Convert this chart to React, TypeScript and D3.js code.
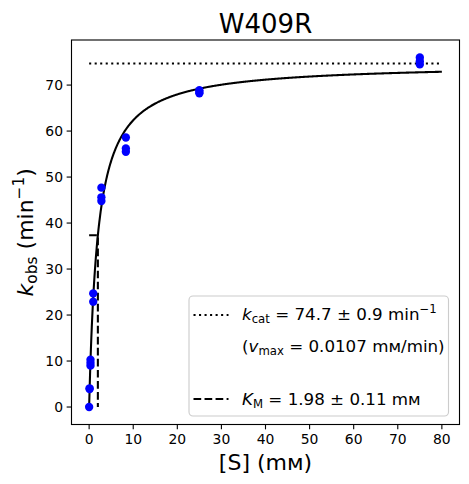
import React from "react";
import * as d3 from "d3";

const substrate = [0, 0.103, 0.103, 0.309, 0.309, 0.309, 0.926, 0.926, 2.78, 2.78, 2.78, 8.33, 8.33, 8.33, 25, 25, 25, 75, 75, 75];
const kobs = [0, 4.07, 3.9, 10.3, 9.6, 9.0, 24.7, 22.9, 47.7, 45.6, 44.8, 58.6, 56.2, 55.5, 68.9, 68.5, 68.2, 76.0, 75.2, 74.5];
const kcat = [74.7];
const KM = [1.98];
const xTicks = [0, 10, 20, 30, 40, 50, 60, 70, 80];
const yTicks = [0, 10, 20, 30, 40, 50, 60, 70];

const W = 469, H = 484;
const L = 71.5, R = 459.5, T = 40, B = 424.5;
const FONT = "DejaVu Sans";
const LW = 2.08;
const DOT = "2.08,3.44";
const DASH = "7.7,3.33";

export default function App() {
  const x = d3.scaleLinear().domain([-4, 84]).range([L, R]);
  const y = d3.scaleLinear().domain([-3.8, 79.8]).range([B, T]);
  const vmax = kcat[0];
  const km = KM[0];
  const curveX = d3.range(0, 80.0001, 0.1);
  const line = d3.line<number>().x((s) => x(s)).y((s) => y((vmax * s) / (km + s)));
  const half = vmax / 2;

  return (
    <svg width={W} height={H} style={{ position: "absolute", left: 0, top: 0, background: "#fff" }} fontFamily={FONT}>
      <rect x={0} y={0} width={W} height={H} fill="#fff" />
      {/* kcat dotted line */}
      <line x1={x(0)} x2={x(80)} y1={y(vmax)} y2={y(vmax)} stroke="#000" strokeWidth={LW} strokeDasharray={DOT} />
      {/* KM dashed */}
      <path d={`M${x(0)},${y(half)}H${x(km)}V${y(0)}`} fill="none" stroke="#000" strokeWidth={LW} strokeDasharray={DASH} />
      {/* fit curve */}
      <path d={line(curveX) || ""} fill="none" stroke="#000" strokeWidth={LW} />
      {/* data */}
      {substrate.map((s, i) => (
        <circle key={i} cx={x(s)} cy={y(kobs[i])} r={4.17} fill="#0000ff" />
      ))}
      {/* frame */}
      <rect x={L} y={T} width={R - L} height={B - T} fill="none" stroke="#000" strokeWidth={1.11} />
      {/* x ticks */}
      {xTicks.map((t) => (
        <g key={t}>
          <line x1={x(t)} x2={x(t)} y1={B} y2={B + 4.86} stroke="#000" strokeWidth={1.11} />
          <text x={x(t)} y={B + 19} fontSize={13.9} textAnchor="middle">{t}</text>
        </g>
      ))}
      {yTicks.map((t) => (
        <g key={t}>
          <line x1={L} x2={L - 4.86} y1={y(t)} y2={y(t)} stroke="#000" strokeWidth={1.11} />
          <text x={L - 8.5} y={y(t) + 5} fontSize={13.9} textAnchor="end">{t}</text>
        </g>
      ))}
      {/* title */}
      <text x={(L + R) / 2} y={33} fontSize={26} textAnchor="middle">W409R</text>
      {/* x label */}
      <text x={(L + R) / 2} y={470} fontSize={22} textAnchor="middle">[S] (mм)</text>
      {/* y label */}
      <text transform={`translate(33,${(T + B) / 2}) rotate(-90)`} fontSize={22} textAnchor="middle">
        <tspan fontStyle="italic">k</tspan>
        <tspan fontSize={15.4} dy={4}>obs</tspan>
        <tspan dy={-4}> (min</tspan>
        <tspan fontSize={15.4} dy={-9}>−1</tspan>
        <tspan dy={9}>)</tspan>
      </text>
      {/* legend */}
      <rect x={189} y={296} width={259.5} height={120} rx={4} fill="#fff" fillOpacity={0.8} stroke="#cccccc" strokeWidth={1.11} />
      <line x1={193.5} x2={228.5} y1={315} y2={315} stroke="#000" strokeWidth={LW} strokeDasharray={DOT} />
      <text x={242} y={320} fontSize={16.7}>
        <tspan fontStyle="italic">k</tspan>
        <tspan fontSize={11.7} dy={3}>cat</tspan>
        <tspan dy={-3}> = 74.7 ± 0.9 min</tspan>
        <tspan fontSize={11.7} dy={-7}>−1</tspan>
      </text>
      <text x={242} y={351.5} fontSize={16.7}>
        <tspan>(</tspan>
        <tspan fontStyle="italic">v</tspan>
        <tspan fontSize={11.7} dy={3}>max</tspan>
        <tspan dy={-3}> = 0.0107 mм/min)</tspan>
      </text>
      <line x1={193.5} x2={228.5} y1={399} y2={399} stroke="#000" strokeWidth={LW} strokeDasharray={DASH} />
      <text x={242} y={404.5} fontSize={16.7}>
        <tspan fontStyle="italic">K</tspan>
        <tspan fontSize={11.7} dy={3}>M</tspan>
        <tspan dy={-3}> = 1.98 ± 0.11 mм</tspan>
      </text>
    </svg>
  );
}
